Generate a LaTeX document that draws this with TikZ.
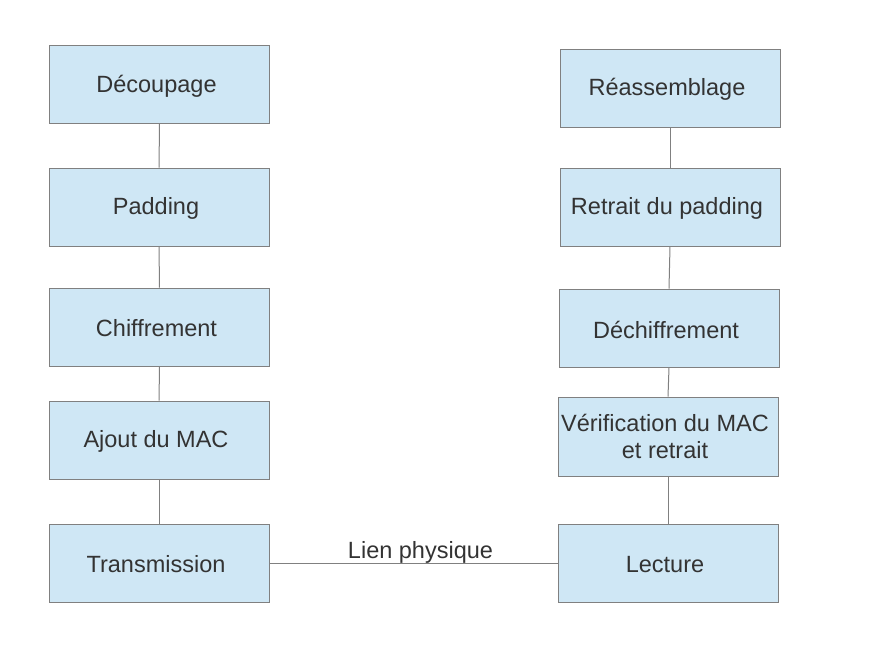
\documentclass[tikz,border=0pt]{standalone}
\usepackage{fontspec}
\setmainfont{Liberation Sans}
\definecolor{boxfill}{RGB}{207,231,245}
\definecolor{boxline}{RGB}{128,128,128}
\definecolor{txt}{RGB}{51,51,51}
\begin{document}
\begin{tikzpicture}[x=1pt,y=-1pt,
  blk/.style={draw=boxline,fill=boxfill,line width=1pt,minimum width=220pt,minimum height=78pt,inner sep=0pt},
  lbl/.style={align=center,inner sep=0pt,font=\fontsize{23.5}{26.5}\selectfont,text=txt},
  lnk/.style={draw=boxline,line width=1pt}]
\useasboundingbox (0,0) rectangle (869,662);
\node[blk] (a1) at (159.5,84.5) {};
\node[blk] (a2) at (159,207) {};
\node[blk] (a3) at (159.5,327) {};
\node[blk] (a4) at (159,440) {};
\node[blk] (a5) at (159,563) {};
\node[blk] (b1) at (670,88) {};
\node[blk] (b2) at (670,207) {};
\node[blk] (b3) at (669,328) {};
\node[blk,minimum height=79pt] (b4) at (668,436.5) {};
\node[blk] (b5) at (668,563) {};
\node[lbl] (ta1) at ([xshift=-3pt,yshift=-1.5pt]a1.center) {Découpage};
\node[lbl] (ta2) at ([xshift=-3pt,yshift=-1.5pt]a2.center) {Padding};
\node[lbl] (ta3) at ([xshift=-3pt,yshift=-1.5pt]a3.center) {Chiffrement};
\node[lbl] (ta4) at ([xshift=-3pt,yshift=-1.5pt]a4.center) {Ajout du MAC};
\node[lbl] (ta5) at ([xshift=-3pt,yshift=-1.5pt]a5.center) {Transmission};
\node[lbl] (tb1) at ([xshift=-3pt,yshift=-1.5pt]b1.center) {Réassemblage};
\node[lbl] (tb2) at ([xshift=-3pt,yshift=-1.5pt]b2.center) {Retrait du padding};
\node[lbl] (tb3) at ([xshift=-3pt,yshift=-1.5pt]b3.center) {Déchiffrement};
\node[lbl] (tb4) at ([xshift=-3pt,yshift=0pt]b4.center) {Vérification du MAC\\et retrait};
\node[lbl] (tb5) at ([xshift=-3pt,yshift=-1.5pt]b5.center) {Lecture};
\draw[lnk] (a1) -- (a2);
\draw[lnk] (a2) -- (a3);
\draw[lnk] (a3) -- (a4);
\draw[lnk] (a4) -- (a5);
\draw[lnk] (b1.south) -- (b2.north);
\draw[lnk] (b2.south) -- (b3.north);
\draw[lnk] (b3.south) -- (b4.north);
\draw[lnk] (b4.south) -- (b5.north);
\draw[lnk] (a5) -- node[lbl,above=-1pt,xshift=7pt] (lp) {Lien physique} (b5);
\end{tikzpicture}
\end{document}
